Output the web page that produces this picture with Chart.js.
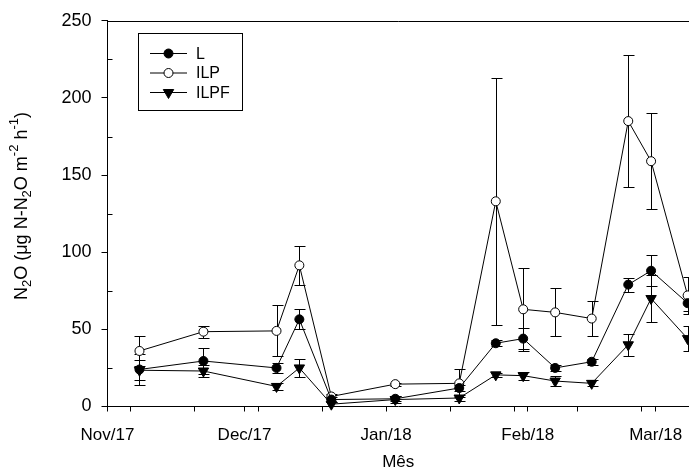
<!DOCTYPE html>
<html lang="pt">
<head>
<meta charset="UTF-8">
<title>N2O - L, ILP, ILPF</title>
<script src="https://cdn.jsdelivr.net/npm/chart.js@4"></script>
<style>
  body { margin: 0; background: #fff; }
  #wrap { width: 689px; height: 472px; position: relative; }
</style>
</head>
<body>
<div id="wrap"><canvas id="chart"></canvas></div>
<script>
// sampling dates and N2O flux (mean and error) per system
const sampleDates = ['2017-11-08', '2017-11-22', '2017-12-08', '2017-12-13', '2017-12-20', '2018-01-03', '2018-01-17',
                     '2018-01-25', '2018-01-31', '2018-02-07', '2018-02-15', '2018-02-23', '2018-02-28', '2018-03-08'];
const fluxL     = [24, 29.5, 25, 56.5, 4.5, 5, 12, 41, 44, 25, 29, 79, 88, 67];
const errL      = [10, 8.5, 3, 6.5, 1.5, 1.5, 2, 2, 7, 2, 2, 4.5, 10, 5];
const fluxILP   = [36, 48.5, 49, 91.5, 6.5, 14.5, 15, 133, 63, 61, 57, 185, 159, 72];
const errILP    = [9.5, 3.8, 16.5, 12.5, 1.5, 1, 9, 80, 27, 15.5, 11.5, 43, 31, 12];
const fluxILPF  = [23.5, 23, 13, 25, 1.5, 4.5, 5.5, 20.5, 20, 16.5, 15, 40, 70, 44];
const errILPF   = [6.5, 4, 2, 6, 1.5, 2, 2, 1.5, 2.5, 3, 2, 7, 15, 8];

const monthStarts = ['2017-11-01', '2017-12-01', '2018-01-01', '2018-02-01', '2018-03-01'];
const monthLabels = ['Nov/17', 'Dec/17', 'Jan/18', 'Feb/18', 'Mar/18'];
const minorDates  = ['2017-11-06', '2017-11-20', '2017-12-04', '2017-12-18', '2018-01-15', '2018-01-29', '2018-02-12', '2018-02-26'];
const yMinorTicks = [25, 75, 125, 175, 225];

const FONT = "'Liberation Sans', Arial, sans-serif";
const origin = Date.UTC(2017, 10, 1);
function toDay(s) { return (Date.parse(s) - origin) / 86400000; }

const days = sampleDates.map(toDay);
const majorDays = monthStarts.map(toDay);
const minorDays = minorDates.map(toDay);
const xTicks = majorDays.concat(minorDays).sort((a, b) => a - b);

function points(vals) { return vals.map((v, i) => ({ x: days[i], y: v })); }

const errorBars = {
  id: 'errorBars',
  beforeDatasetsDraw(chart) {
    const { ctx, chartArea, scales: { x, y } } = chart;
    ctx.save();
    ctx.beginPath();
    ctx.rect(chartArea.left, chartArea.top, chart.width - chartArea.left, chartArea.bottom - chartArea.top);
    ctx.clip();
    ctx.strokeStyle = '#000';
    ctx.lineWidth = 1;
    chart.data.datasets.forEach(ds => {
      ds.data.forEach((p, i) => {
        const e = ds.errors[i];
        const px = Math.round(x.getPixelForValue(p.x)) + 0.5;
        const yt = Math.round(y.getPixelForValue(p.y + e)) + 0.5;
        const yb = Math.round(y.getPixelForValue(p.y - e)) + 0.5;
        ctx.beginPath();
        ctx.moveTo(px, yt); ctx.lineTo(px, yb);
        ctx.moveTo(px - 5, yt); ctx.lineTo(px + 6, yt);
        ctx.moveTo(px - 5, yb); ctx.lineTo(px + 6, yb);
        ctx.stroke();
      });
    });
    ctx.restore();
  }
};

const frameAndTitle = {
  id: 'frameAndTitle',
  afterDraw(chart) {
    const { ctx, chartArea, scales: { y } } = chart;
    ctx.save();
    ctx.strokeStyle = '#000';
    ctx.lineWidth = 1;
    // top frame line
    ctx.beginPath();
    ctx.moveTo(chartArea.left, Math.round(chartArea.top) + 0.5);
    ctx.lineTo(chart.width, Math.round(chartArea.top) + 0.5);
    // minor y ticks point inwards
    yMinorTicks.forEach(v => {
      const py = Math.round(y.getPixelForValue(v)) + 0.5;
      ctx.moveTo(chartArea.left, py);
      ctx.lineTo(chartArea.left + 5, py);
    });
    ctx.stroke();

    // y axis title with sub/superscripts
    const parts = [['N', 0], ['2', -1], ['O (\u03bcg N-N', 0], ['2', -1], ['O m', 0], ['-2', 1], [' h', 0], ['-1', 1], [')', 0]];
    const big = '18px ' + FONT, small = '13px ' + FONT;
    let total = 0;
    parts.forEach(p => { ctx.font = p[1] ? small : big; total += ctx.measureText(p[0]).width; });
    ctx.translate(21, 206);
    ctx.rotate(-Math.PI / 2);
    ctx.fillStyle = '#000';
    ctx.textBaseline = 'alphabetic';
    let cx = -total / 2;
    parts.forEach(p => {
      ctx.font = p[1] ? small : big;
      const dy = p[1] === -1 ? 10 : (p[1] === 1 ? -3 : 6);
      ctx.fillText(p[0], cx, dy);
      cx += ctx.measureText(p[0]).width;
    });
    ctx.restore();

    // legend box
    ctx.save();
    ctx.fillStyle = '#fff';
    ctx.strokeStyle = '#000';
    ctx.lineWidth = 1;
    ctx.fillRect(138.5, 33.5, 104, 77);
    ctx.strokeRect(138.5, 33.5, 104, 77);
    ctx.font = '16px ' + FONT;
    ctx.textBaseline = 'middle';
    chart.data.datasets.forEach((ds, i) => {
      const ly = 53.5 + i * 19.5;
      ctx.beginPath();
      ctx.moveTo(150, ly); ctx.lineTo(187, ly);
      ctx.stroke();
      ctx.fillStyle = ds.pointBackgroundColor;
      ctx.strokeStyle = '#000';
      Chart.helpers.drawPoint(ctx, {
        pointStyle: ds.pointStyle, rotation: ds.pointRotation || 0,
        radius: ds.pointRadius, borderWidth: ds.pointBorderWidth
      }, 168.5, ly);
      ctx.fillStyle = '#000';
      ctx.fillText(ds.label, 196, ly + 1);
    });
    ctx.restore();
  }
};

new Chart(document.getElementById('chart'), {
  type: 'line',
  data: {
    datasets: [
      { label: 'L', data: points(fluxL), errors: errL, borderColor: '#000', borderWidth: 1,
        pointStyle: 'circle', pointRadius: 4.5, pointBackgroundColor: '#000', pointBorderColor: '#000', pointBorderWidth: 1, clip: false },
      { label: 'ILP', data: points(fluxILP), errors: errILP, borderColor: '#000', borderWidth: 1,
        pointStyle: 'circle', pointRadius: 4.5, pointBackgroundColor: '#fff', pointBorderColor: '#000', pointBorderWidth: 1, clip: false },
      { label: 'ILPF', data: points(fluxILPF), errors: errILPF, borderColor: '#000', borderWidth: 1,
        pointStyle: 'triangle', pointRotation: 180, pointRadius: 6, pointBackgroundColor: '#000', pointBorderColor: '#000', pointBorderWidth: 1, clip: false }
    ]
  },
  options: {
    responsive: true,
    maintainAspectRatio: false,
    animation: false,
    layout: { autoPadding: false, padding: { top: 20, right: 0, bottom: 0, left: 0 } },
    plugins: { legend: { display: false }, tooltip: { enabled: false } },
    scales: {
      x: {
        type: 'linear',
        min: 0,
        max: 127.3,
        afterBuildTicks(scale) { scale.ticks = xTicks.map(v => ({ value: v })); },
        afterFit(scale) { scale.height = 65.5; scale.paddingLeft = 0; scale.paddingRight = 0; },
        ticks: {
          autoSkip: false, maxRotation: 0, padding: 14,
          color: '#000', font: { size: 17, family: FONT },
          callback(v) { const i = majorDays.indexOf(v); return i >= 0 ? monthLabels[i] : ''; }
        },
        grid: { drawOnChartArea: false, tickLength: 5, color: '#000' },
        border: { color: '#000', width: 1 },
        title: { display: true, text: 'Mês', color: '#000', font: { size: 17, family: FONT }, padding: { top: 0, bottom: -1 } }
      },
      y: {
        min: 0,
        max: 250,
        afterFit(scale) { scale.width = 107.5; },
        ticks: { stepSize: 50, padding: 10, color: '#000', font: { size: 18, family: FONT } },
        grid: { drawOnChartArea: false, tickLength: 6, color: '#000' },
        border: { color: '#000', width: 1 }
      }
    }
  },
  plugins: [errorBars, frameAndTitle]
});
</script>
</body>
</html>
